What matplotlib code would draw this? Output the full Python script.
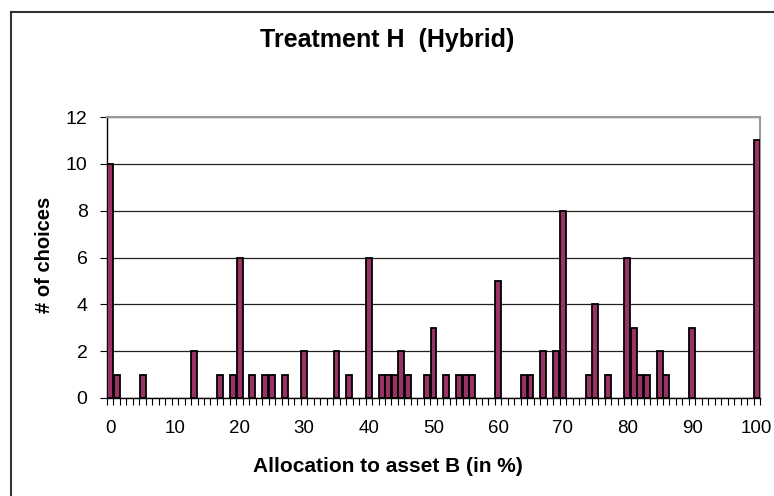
import numpy as np
import matplotlib.pyplot as plt
from matplotlib.lines import Line2D

plt.rcParams['font.family'] = ['Liberation Sans', 'DejaVu Sans']

# allocation (in %) that got at least one choice, and how many
alloc = [0, 1, 5, 13, 17, 19, 20, 22, 24, 25, 27, 30, 35, 37, 40, 42, 43, 44, 45, 46,
         49, 50, 52, 54, 55, 56, 60, 64, 65, 67, 69, 70, 74, 75, 77, 80, 81, 82, 83,
         85, 86, 90, 100]
choices = [10, 1, 1, 2, 1, 1, 6, 1, 1, 1, 1, 2, 2, 1, 6, 1, 1, 1, 2, 1,
           1, 3, 1, 1, 1, 1, 5, 1, 1, 2, 2, 8, 1, 4, 1, 6, 3, 1, 1,
           2, 1, 3, 11]
xtick_labels = [0, 10, 20, 30, 40, 50, 60, 70, 80, 90, 100]

W, H = 774, 496
fig = plt.figure(figsize=(W/100, H/100), dpi=100)
ax = fig.add_axes([107/W, 1-398/H, 653/W, 281/H])

ax.bar(alloc, choices, width=0.92, color='#993366', edgecolor='black', linewidth=1.3, zorder=3)

ax.set_xlim(-0.5, 100.5)
ax.set_ylim(0, 12)
ax.set_yticks(range(0, 13, 2))
ax.set_xticks(xtick_labels)
ax.set_xticks(np.arange(-0.5, 101, 1), minor=True)
ax.tick_params(axis='x', which='major', length=0, labelsize=13.5, pad=16)
ax.tick_params(axis='x', which='minor', length=5, width=0.8, direction='out')
ax.tick_params(axis='y', length=5, width=0.8, labelsize=14, pad=9)

ax.grid(axis='y', color='#222222', linewidth=0.9, zorder=0)
for s in ['top', 'right']:
    ax.spines[s].set_color('#999999')
    ax.spines[s].set_linewidth(1.5)
for s in ['left', 'bottom']:
    ax.spines[s].set_color('black')
    ax.spines[s].set_linewidth(1.0)

fig.text(388/W, 1-467/H, 'Allocation to asset B (in %)', ha='center', va='center',
         fontsize=15, fontweight='bold')
fig.text(45/W, 1-255/H, '# of choices', ha='center', va='center', rotation=90,
         fontsize=14.5, fontweight='bold')
fig.text(387/W, 1-40/H, 'Treatment H  (Hybrid)', ha='center', va='center',
         fontsize=18, fontweight='bold')

# chart frame (only left and top edges show)
fig.add_artist(Line2D([11/W, 11/W], [0, 1-12/H], color='#333333', linewidth=1.5))
fig.add_artist(Line2D([11/W, 1], [1-12/H, 1-12/H], color='#333333', linewidth=1.5))

fig.savefig('out.png', dpi=100)
